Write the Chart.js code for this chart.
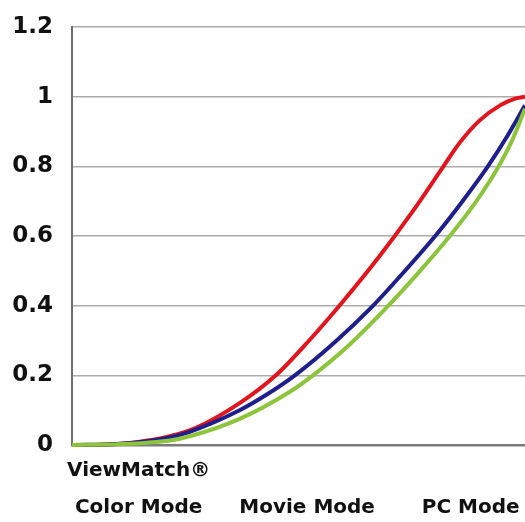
<!DOCTYPE html>
<html><head><meta charset="utf-8">
<script src="https://cdn.jsdelivr.net/npm/chart.js@4"></script>
<style>html,body{margin:0;padding:0;background:#fff}</style>
</head><body>
<canvas id="c" width="525" height="522"></canvas>
<script>
// X categories (label text) and where they sit along the normalized input axis
const xTickLabels = [["ViewMatch®", "Color Mode"], ["", "Movie Mode"], ["", "PC Mode"]];
const xTickValues = [0.147, 0.519, 0.88];
const yTickValues = [0, 0.2, 0.4, 0.6, 0.8, 1, 1.2];

// Curves (normalized input -> output)
const redX   = [0, 0.07, 0.143, 0.216, 0.275, 0.37, 0.45, 0.52, 0.6, 0.68, 0.75, 0.82, 0.856, 0.9, 0.945, 0.98, 1];
const redY   = [0, 0.001, 0.008, 0.025, 0.05, 0.12, 0.2, 0.295, 0.415, 0.544, 0.667, 0.8, 0.868, 0.932, 0.975, 0.995, 1];
const blueX  = [0, 0.1, 0.216, 0.26, 0.37, 0.43, 0.492, 0.58, 0.661, 0.735, 0.805, 0.865, 0.918, 0.96, 1];
const blueY  = [0, 0.003, 0.022, 0.038, 0.1, 0.145, 0.2, 0.295, 0.395, 0.5, 0.605, 0.705, 0.8, 0.885, 0.975];
const greenX = [0, 0.1, 0.216, 0.26, 0.37, 0.481, 0.532, 0.61, 0.691, 0.765, 0.834, 0.89, 0.9375, 0.97, 1];
const greenY = [0, 0.002, 0.013, 0.025, 0.075, 0.153, 0.2, 0.285, 0.39, 0.495, 0.6, 0.695, 0.79, 0.87, 0.965];

const toPts = (xs, ys) => xs.map((x, i) => ({ x: x, y: ys[i] }));

const mk = (label, xs, ys, color) => ({
  label: label, data: toPts(xs, ys), borderColor: color, backgroundColor: color,
  borderWidth: 4, pointRadius: 0, fill: false, cubicInterpolationMode: 'monotone', clip: false
});

new Chart(document.getElementById('c'), {
  type: 'line',
  data: {
    datasets: [
      mk('Green', greenX, greenY, '#8cc43c'),
      mk('Blue', blueX, blueY, '#1e1e8c'),
      mk('Red', redX, redY, '#e2141e')
    ]
  },
  options: {
    responsive: false,
    animation: false,
    layout: { padding: { top: 27, right: 0, left: 0, bottom: 0 } },
    plugins: { legend: { display: false }, tooltip: { enabled: false } },
    scales: {
      x: {
        type: 'linear', min: 0, max: 1,
        afterFit: s => { s.height = 77; s.paddingLeft = 0; s.paddingRight = 0; },
        afterBuildTicks: s => { s.ticks = xTickValues.map(v => ({ value: v })); },
        grid: { display: false, drawTicks: false },
        border: { display: true, color: '#7a7a7a', width: 2.5 },
        ticks: {
          autoSkip: false, maxRotation: 0, minRotation: 0, padding: 7, color: '#111',
          font: { family: 'DejaVu Sans', weight: 'bold', size: 20, lineHeight: 1.85 },
          callback: (v, i) => xTickLabels[i]
        }
      },
      y: {
        type: 'linear', min: 0, max: 1.2,
        afterFit: s => { s.width = 72; s.paddingTop = 0; s.paddingBottom = 0; },
        afterBuildTicks: s => { s.ticks = yTickValues.map(v => ({ value: v })); },
        grid: { color: '#ababab', lineWidth: 1.5, drawTicks: false },
        border: { display: true, color: '#6e6e6e', width: 2 },
        ticks: {
          padding: 19, color: '#111',
          font: { family: 'DejaVu Sans', weight: 'bold', size: 23 },
          callback: v => String(v)
        }
      }
    }
  }
});
</script>
</body></html>
